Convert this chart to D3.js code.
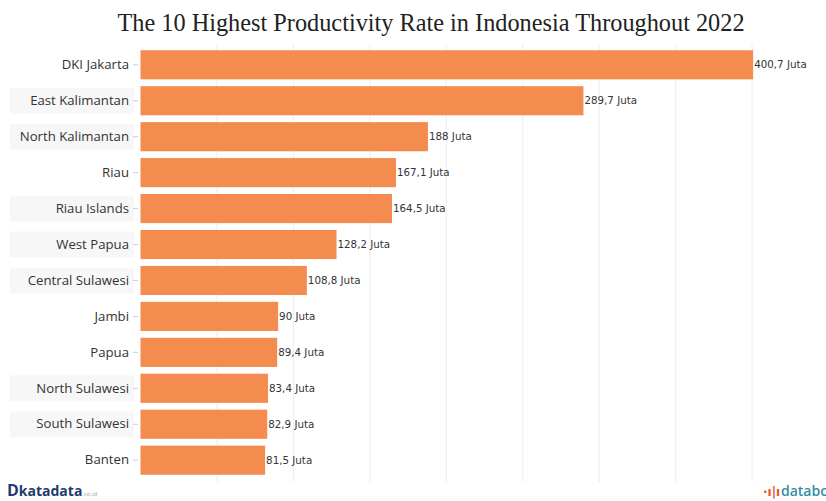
<!DOCTYPE html>
<html><head><meta charset="utf-8">
<script src="https://cdn.jsdelivr.net/npm/d3@7"></script>
<style>body{margin:0;background:#fff}svg{display:block}</style>
</head><body>
<script>
const categories = ["DKI Jakarta","East Kalimantan","North Kalimantan","Riau","Riau Islands","West Papua","Central Sulawesi","Jambi","Papua","North Sulawesi","South Sulawesi","Banten"];
const values = [400.7,289.7,188,167.1,164.5,128.2,108.8,90,89.4,83.4,82.9,81.5];
const valueLabels = ["400,7 Juta","289,7 Juta","188 Juta","167,1 Juta","164,5 Juta","128,2 Juta","108,8 Juta","90 Juta","89,4 Juta","83,4 Juta","82,9 Juta","81,5 Juta"];
const shadedLabels = ["East Kalimantan","North Kalimantan","Riau Islands","West Papua","Central Sulawesi","North Sulawesi","South Sulawesi"];
const gridTicks = [0,50,100,150,200,250,300,350,400,450];
const title = "The 10 Highest Productivity Rate in Indonesia Throughout 2022";

const W=826,H=501;
const svg=d3.select("body").append("svg").attr("width",W).attr("height",H);

const x=d3.scaleLinear().domain([0,450]).range([140.5,828.5]);
const y=d3.scaleBand().domain(categories).range([47,478]).paddingInner(0.19).paddingOuter(0.09);

// gridlines
svg.append("g").selectAll("line").data(gridTicks.slice(1)).join("line")
  .attr("x1",d=>x(d)).attr("x2",d=>x(d)).attr("y1",44).attr("y2",482)
  .attr("stroke","#ededed").attr("stroke-width",1);

// label backgrounds
svg.append("g").selectAll("rect").data(shadedLabels).join("rect")
  .attr("x",10).attr("width",124)
  .attr("y",d=>y(d)+y.bandwidth()/2-13).attr("height",26)
  .attr("fill","#f7f7f7");

// bars
svg.append("g").selectAll("rect").data(categories).join("rect")
  .attr("x",x(0)).attr("y",d=>y(d))
  .attr("width",(d,i)=>x(values[i])-x(0)).attr("height",y.bandwidth())
  .attr("fill","#F48B4F");

// y axis
const yAxis=d3.axisLeft(y).tickSize(5).tickPadding(4);
const ga=svg.append("g").attr("transform","translate(138,0)").call(yAxis);
ga.select(".domain").remove();
ga.selectAll(".tick line").attr("stroke","#cfcfcf");
ga.selectAll(".tick text").attr("font-family","'Open Sans', 'Noto Sans', sans-serif")
  .attr("font-size",13.2).attr("fill","#333");

// value labels
svg.append("g").selectAll("text").data(categories).join("text")
  .attr("x",(d,i)=>x(values[i])+1).attr("y",d=>y(d)+y.bandwidth()/2)
  .attr("dy","0.35em").attr("font-family","'DejaVu Sans', Verdana, sans-serif")
  .attr("font-size",10.3).attr("fill","#333").text((d,i)=>valueLabels[i]);

// title
svg.append("text").attr("x",431).attr("y",31).attr("text-anchor","middle")
  .attr("font-family","'Liberation Serif','Times New Roman',serif").attr("font-size",24.3)
  .attr("fill","#222").text(title);

// logos
const kd=svg.append("text").attr("x",7).attr("y",496).attr("font-family","'Open Sans',sans-serif")
  .attr("font-weight",700).attr("fill","#1f3a6e");
kd.append("tspan").attr("font-size",16).text("D");
kd.append("tspan").attr("font-size",14).text("katadata");
kd.append("tspan").attr("font-size",6).attr("font-weight",400).attr("fill","#8aa").text(".co.id");
svg.append("text").attr("x",763).attr("y",496).attr("font-family","'DejaVu Sans',sans-serif")
  .attr("font-weight",700).attr("font-size",12).attr("fill","#e8542b").text("\u00B7\u0131|\u0131");
svg.append("text").attr("x",781).attr("y",496).attr("font-family","'Open Sans',sans-serif")
  .attr("font-weight",600).attr("font-size",14).attr("fill","#2f8fa0").text("databoks");
</script>
</body></html>
